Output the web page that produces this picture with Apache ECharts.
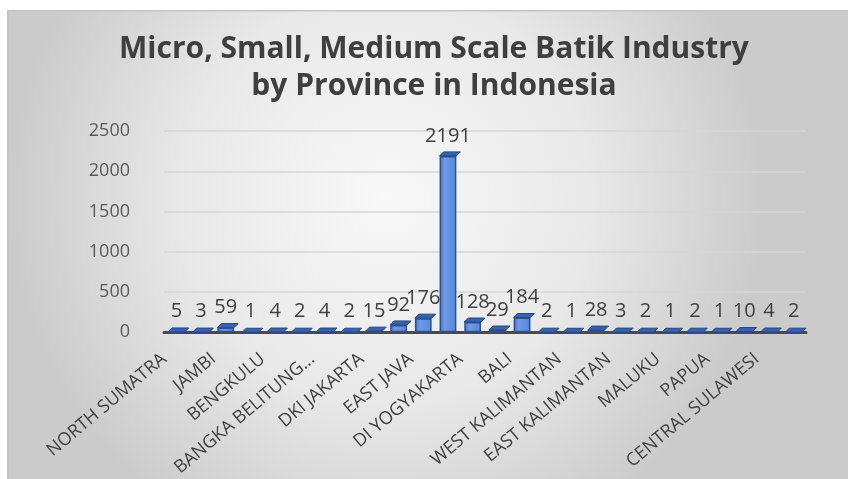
<!DOCTYPE html>
<html>
<head>
<meta charset="utf-8">
<script src="https://cdn.jsdelivr.net/npm/echarts@6/dist/echarts.min.js"></script>
<style>
html,body{margin:0;padding:0;background:#fff;}
#chart{width:848px;height:479px;}
</style>
</head>
<body>
<div id="chart"></div>
<script>
const provinces = [
  'NORTH SUMATRA', 'WEST SUMATRA', 'JAMBI', 'SOUTH SUMATRA', 'BENGKULU', 'LAMPUNG',
  'BANGKA BELITUNG ISLANDS', 'RIAU ISLANDS', 'DKI JAKARTA', 'WEST JAVA', 'EAST JAVA',
  'CENTRAL JAVA', 'DI YOGYAKARTA', 'BANTEN', 'BALI', 'WEST NUSA TENGGARA',
  'WEST KALIMANTAN', 'SOUTH KALIMANTAN', 'EAST KALIMANTAN', 'NORTH SULAWESI',
  'MALUKU', 'NORTH MALUKU', 'PAPUA', 'WEST PAPUA', 'CENTRAL SULAWESI', 'SOUTH SULAWESI'
];
const industries = [5, 3, 59, 1, 4, 2, 4, 2, 15, 92, 176, 2191, 128, 29, 184, 2, 1, 28, 3, 2, 1, 2, 1, 10, 4, 2];
const yTicks = [0, 500, 1000, 1500, 2000, 2500];
const chartTitle = 'Micro, Small, Medium Scale Batik Industry\nby Province in Indonesia';

const chart = echarts.init(document.getElementById('chart'));
const FONT = 'Open Sans';
const topFaceData = industries.map((v, i) => [i, v]);

chart.setOption({
  animation: false,
  title: {
    text: chartTitle,
    left: 434,
    top: 31,
    padding: 0,
    textAlign: 'center',
    textStyle: { fontFamily: FONT, fontWeight: 'bold', fontSize: 30, color: '#3f3f3f', lineHeight: 37, align: 'center' }
  },
  graphic: [
    {
      type: 'rect', left: 7, top: 10, z: -10, silent: true,
      shape: { width: 841, height: 469 },
      style: {
        fill: new echarts.graphic.RadialGradient(0.45, 0.4, 0.8, [
          { offset: 0, color: '#f8f8f8' },
          { offset: 0.55, color: '#e8e8e8' },
          { offset: 1, color: '#cbcbcb' }
        ]),
        stroke: '#c4c4c4', lineWidth: 1.5
      }
    }
  ],
  grid: { left: 164, right: 42, top: 131, bottom: 146, containLabel: false },
  xAxis: {
    type: 'category',
    data: provinces,
    boundaryGap: true,
    axisLine: { show: true, lineStyle: { color: '#4a4a4a', width: 3 } },
    axisTick: { show: false },
    axisLabel: {
      interval: 1,
      rotate: 40,
      margin: 14,
      padding: [0, 16, 0, 0],
      fontFamily: FONT,
      fontSize: 18,
      color: '#404040',
      formatter: function (v) { return v.length > 17 ? v.slice(0, 15) + '...' : v; }
    }
  },
  yAxis: {
    type: 'value',
    min: yTicks[0],
    max: yTicks[yTicks.length - 1],
    interval: yTicks[1] - yTicks[0],
    axisLine: { show: false },
    axisTick: { show: false },
    axisLabel: { fontFamily: FONT, fontSize: 18, color: '#595959', margin: 34, formatter: function (v) { return String(v); } },
    splitLine: { lineStyle: { color: '#d6d6d6', width: 1.5 } }
  },
  series: [
    {
      type: 'bar',
      data: industries,
      barWidth: '68%',
      itemStyle: {
        color: new echarts.graphic.LinearGradient(0, 0, 1, 0, [
          { offset: 0, color: '#4472c4' },
          { offset: 0.3, color: '#6e9ce8' },
          { offset: 1, color: '#5485d8' }
        ]),
        borderColor: '#2f528f',
        borderWidth: 1.5
      },
      label: {
        show: true,
        position: 'top',
        distance: 10,
        fontFamily: FONT,
        fontSize: 20,
        color: '#404040'
      },
      z: 2
    },
    {
      type: 'custom',
      data: topFaceData,
      z: 3,
      silent: true,
      renderItem: function (params, api) {
        const c = api.coord([api.value(0), api.value(1)]);
        const w = api.size([1, 0])[0] * 0.68;
        const x0 = c[0] - w / 2;
        const y = c[1];
        const dx = 4, dy = 4;
        return {
          type: 'polygon',
          shape: { points: [[x0, y], [x0 + w, y], [x0 + w + dx, y - dy], [x0 + dx, y - dy]] },
          style: { fill: '#3562b3', stroke: '#27477f', lineWidth: 1 }
        };
      }
    }
  ]
});
</script>
</body>
</html>
